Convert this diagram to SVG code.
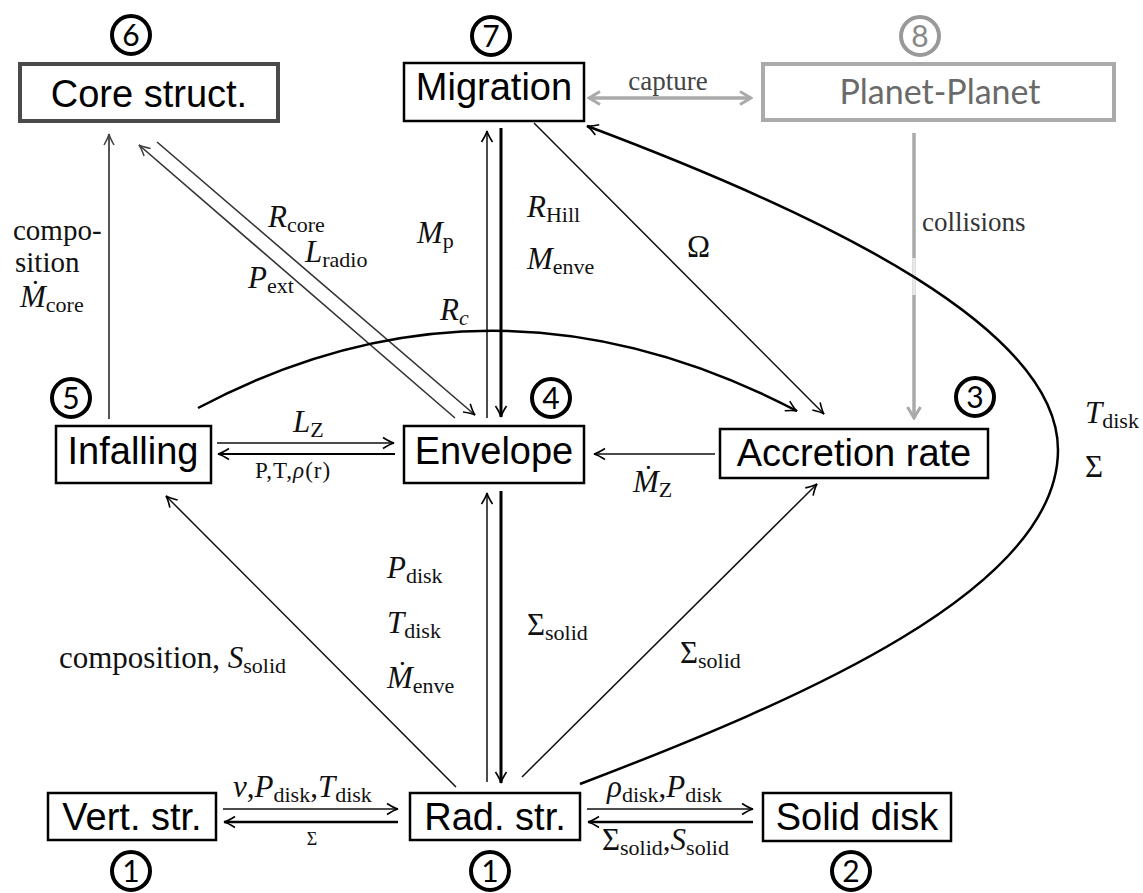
<svg xmlns="http://www.w3.org/2000/svg" width="1143" height="893" viewBox="0 0 1143 893">
<style>
.box{fill:#fff;stroke:#000;stroke-width:2.5}
.nl{font-family:"Liberation Sans",Arial,sans-serif;font-size:38px;text-anchor:middle;fill:#000}
.m{font-family:"Liberation Serif","Times New Roman",serif;font-size:31px;fill:#111}
.i{font-style:italic}
.s{font-size:22px;font-style:normal}
.num{font-family:Lato,"Open Sans",sans-serif;font-size:30px;text-anchor:middle;fill:#000}
.circ{fill:none;stroke:#000;stroke-width:4}
.c{fill:none;stroke:#111;stroke-width:1.5}
.ct{fill:none;stroke:#000;stroke-width:3}
.cg{fill:none;stroke:#aaa;stroke-width:3.5}
</style>
<defs>
<marker id="a" viewBox="-13 -7 15 14" markerWidth="15" markerHeight="14" refX="0" refY="0" orient="auto" markerUnits="userSpaceOnUse">
<path d="M-11,-5.5 Q-4,-1 0,0 Q-4,1 -11,5.5" fill="none" stroke="#000" stroke-width="1.6"/>
</marker>
<marker id="ag" viewBox="-14 -8 16 16" markerWidth="16" markerHeight="16" refX="0" refY="0" orient="auto-start-reverse" markerUnits="userSpaceOnUse">
<path d="M-11,-6.5 L0,0 L-11,6.5" fill="none" stroke="#aaa" stroke-width="3"/>
</marker>
<marker id="ad" viewBox="-13 -7 15 14" markerWidth="15" markerHeight="14" refX="0" refY="0" orient="auto" markerUnits="userSpaceOnUse">
<path d="M-11,-5 Q-4,-1 0,0 Q-4,1 -11,5" fill="none" stroke="#444" stroke-width="1.5"/>
</marker>
</defs>
<rect width="1143" height="893" fill="#fff"/>

<g id="connectors">
  <line x1="109" y1="419" x2="109" y2="134" stroke="#555" stroke-width="2" marker-end="url(#ad)"/>
  <line x1="455" y1="418" x2="139" y2="145" stroke="#333" stroke-width="1.6" marker-end="url(#ad)"/>
  <line x1="157" y1="142" x2="475" y2="415" stroke="#333" stroke-width="1.6" marker-end="url(#a)"/>
  <line x1="487" y1="418" x2="487" y2="131" class="c" marker-end="url(#a)"/>
  <line x1="501" y1="128" x2="501" y2="417" class="ct" marker-end="url(#a)"/>
  <line x1="487" y1="782" x2="487" y2="493" class="c" marker-end="url(#a)"/>
  <line x1="501" y1="491" x2="501" y2="783" class="ct" marker-end="url(#a)"/>
  <line x1="217" y1="443" x2="394" y2="443" class="c" marker-end="url(#a)"/>
  <line x1="395" y1="454" x2="218" y2="454" stroke="#000" stroke-width="2" marker-end="url(#a)"/>
  <line x1="715" y1="454" x2="594" y2="454" class="c" marker-end="url(#a)"/>
  <line x1="456" y1="787" x2="166" y2="496" class="c" marker-end="url(#a)"/>
  <line x1="522" y1="777" x2="817" y2="484" class="c" marker-end="url(#a)"/>
  <line x1="534" y1="123" x2="824" y2="414" class="c" marker-end="url(#a)"/>
  <line x1="223" y1="809" x2="398" y2="809" class="c" marker-end="url(#a)"/>
  <line x1="398" y1="822" x2="224" y2="822" stroke="#000" stroke-width="2.5" marker-end="url(#a)"/>
  <line x1="587" y1="809" x2="753" y2="809" class="c" marker-end="url(#a)"/>
  <line x1="753" y1="822" x2="588" y2="822" stroke="#000" stroke-width="2.5" marker-end="url(#a)"/>
  <line x1="589" y1="98" x2="751" y2="98" class="cg" marker-start="url(#ag)" marker-end="url(#ag)"/>
  <line x1="914" y1="133" x2="914" y2="418" class="cg" marker-end="url(#ag)"/>
  <line x1="914" y1="258" x2="914" y2="295" stroke="#e8e8e8" stroke-width="3.6"/>
  <path d="M198,408 Q492,252 797,411" fill="none" stroke="#000" stroke-width="2.5" marker-end="url(#a)"/>
  <path d="M580,784 C800,700 1058,590 1058,450 C1058,330 835,219 587,126" fill="none" stroke="#000" stroke-width="2.5" marker-end="url(#a)"/>
</g>

<g id="core">
  <rect x="20" y="64" width="258" height="57" fill="#fff" stroke="#4a4a4a" stroke-width="4"/>
  <text class="nl" x="149" y="107">Core struct.</text>
  <circle class="circ" cx="131" cy="35" r="19"/>
  <text class="num" x="131" y="46">6</text>
</g>
<g id="migration">
  <rect class="box" x="404" y="63" width="180" height="58"/>
  <text class="nl" x="494" y="100">Migration</text>
  <circle class="circ" cx="491" cy="36" r="19"/>
  <text class="num" x="491" y="47">7</text>
</g>
<g id="planet">
  <rect x="763" y="64" width="351" height="56" fill="#fff" stroke="#aaa" stroke-width="4"/>
  <text x="940" y="104" font-family="Lato,'Open Sans',sans-serif" font-size="34" text-anchor="middle" fill="#6a6a6a">Planet-Planet</text>
  <circle cx="920" cy="36" r="19" fill="none" stroke="#999" stroke-width="4"/>
  <text class="num" x="920" y="47" style="fill:#888">8</text>
</g>
<g id="infalling">
  <rect class="box" x="56" y="426" width="155" height="57"/>
  <text class="nl" x="133" y="464">Infalling</text>
  <circle class="circ" cx="71" cy="398" r="19"/>
  <text class="num" x="71" y="409">5</text>
</g>
<g id="envelope">
  <rect class="box" x="404" y="426" width="180" height="57"/>
  <text class="nl" x="494" y="464">Envelope</text>
  <circle class="circ" cx="551" cy="398" r="19"/>
  <text class="num" x="551" y="409">4</text>
</g>
<g id="accretion">
  <rect class="box" x="720" y="429" width="268" height="49"/>
  <text class="nl" x="854" y="466">Accretion rate</text>
  <circle class="circ" cx="975" cy="397" r="19"/>
  <text class="num" x="975" y="408">3</text>
</g>
<g id="vert">
  <rect class="box" x="48" y="793" width="168" height="47"/>
  <text class="nl" x="132" y="830">Vert. str.</text>
  <circle class="circ" cx="131" cy="871" r="19"/>
  <text class="num" x="131" y="882">1</text>
</g>
<g id="rad">
  <rect class="box" x="410" y="793" width="170" height="47"/>
  <text class="nl" x="495" y="830">Rad. str.</text>
  <circle class="circ" cx="490" cy="871" r="19"/>
  <text class="num" x="490" y="882">1</text>
</g>
<g id="solid">
  <rect class="box" x="763" y="793" width="188" height="48"/>
  <text class="nl" x="857" y="830">Solid disk</text>
  <circle class="circ" cx="851" cy="871" r="19"/>
  <text class="num" x="851" y="882">2</text>
</g>

<g id="labels">
  <text class="m" x="13" y="240" style="font-size:29px">compo-</text>
  <text class="m" x="15" y="272" style="font-size:29px">sition</text>
  <text class="m" x="20" y="307"><tspan class="i">Ṁ</tspan><tspan class="s" dy="5">core</tspan></text>
  <text class="m" x="268" y="227"><tspan class="i">R</tspan><tspan class="s" dy="5">core</tspan></text>
  <text class="m" x="305" y="262"><tspan class="i">L</tspan><tspan class="s" dy="5">radio</tspan></text>
  <text class="m" x="248" y="288"><tspan class="i">P</tspan><tspan class="s" dy="5">ext</tspan></text>
  <text class="m" x="417" y="243"><tspan class="i">M</tspan><tspan class="s" dy="5">p</tspan></text>
  <text class="m" x="440" y="320"><tspan class="i">R</tspan><tspan class="s" dy="5" style="font-style:italic">c</tspan></text>
  <text class="m" x="527" y="217"><tspan class="i">R</tspan><tspan class="s" dy="5">Hill</tspan></text>
  <text class="m" x="527" y="269"><tspan class="i">M</tspan><tspan class="s" dy="5">enve</tspan></text>
  <text class="m" x="687" y="257">Ω</text>
  <text class="m" x="668" y="90" text-anchor="middle" style="font-size:27px;fill:#444">capture</text>
  <text class="m" x="922" y="231" style="font-size:27px;fill:#333">collisions</text>
  <text class="m" x="293" y="432"><tspan class="i">L</tspan><tspan class="s" dy="5">Z</tspan></text>
  <text class="m" x="255" y="478" style="font-size:23px;letter-spacing:1px">P,T,<tspan class="i">ρ</tspan>(r)</text>
  <text class="m" x="633" y="492"><tspan class="i">Ṁ</tspan><tspan class="s" dy="5">Z</tspan></text>
  <text class="m" x="1085" y="423"><tspan class="i">T</tspan><tspan class="s" dy="5">disk</tspan></text>
  <text class="m" x="1085" y="477">Σ</text>
  <text class="m" x="387" y="578"><tspan class="i">P</tspan><tspan class="s" dy="5">disk</tspan></text>
  <text class="m" x="387" y="633"><tspan class="i">T</tspan><tspan class="s" dy="5">disk</tspan></text>
  <text class="m" x="387" y="688"><tspan class="i">Ṁ</tspan><tspan class="s" dy="5">enve</tspan></text>
  <text class="m" x="527" y="635">Σ<tspan class="s" dy="5">solid</tspan></text>
  <text class="m" x="680" y="663">Σ<tspan class="s" dy="5">solid</tspan></text>
  <text class="m" x="59" y="668">composition, <tspan class="i">S</tspan><tspan class="s" dy="5">solid</tspan></text>
  <text class="m" x="233" y="797"><tspan class="i">ν</tspan>,<tspan class="i">P</tspan><tspan class="s" dy="5">disk</tspan><tspan dy="-5">,</tspan><tspan class="i">T</tspan><tspan class="s" dy="5">disk</tspan></text>
  <text class="m" x="312" y="845" text-anchor="middle" style="font-size:18px">Σ</text>
  <text class="m" x="607" y="797"><tspan class="i">ρ</tspan><tspan class="s" dy="5">disk</tspan><tspan dy="-5">,</tspan><tspan class="i">P</tspan><tspan class="s" dy="5">disk</tspan></text>
  <text class="m" x="602" y="850">Σ<tspan class="s" dy="5">solid</tspan><tspan dy="-5">,</tspan><tspan class="i">S</tspan><tspan class="s" dy="5">solid</tspan></text>
</g>
</svg>
